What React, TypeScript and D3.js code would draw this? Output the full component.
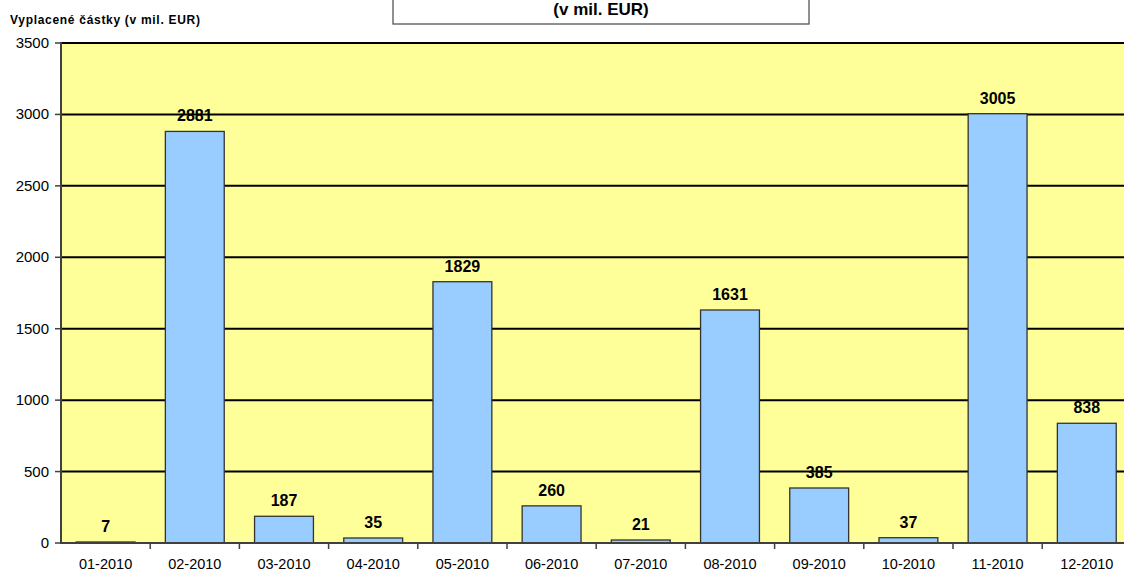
import React from "react";
import * as d3 from "d3";

// monthly paid amounts, 2010
var months = [
  "01-2010", "02-2010", "03-2010", "04-2010", "05-2010", "06-2010",
  "07-2010", "08-2010", "09-2010", "10-2010", "11-2010", "12-2010"
];
var amounts = [7, 2881, 187, 35, 1829, 260, 21, 1631, 385, 37, 3005, 838];
var yTicks = [0, 500, 1000, 1500, 2000, 2500, 3000, 3500];

var WIDTH = 1124;
var HEIGHT = 571;
var FONT = "Arial, 'Liberation Sans', sans-serif";

const App = () => {
  var left = 61;
  var step = 89.2;
  var top = 43;
  var bottom = 543;

  var x = d3
    .scaleBand<string>()
    .domain(months)
    .range([left, left + step * months.length])
    .paddingInner(0.34)
    .paddingOuter(0.17);

  var y = d3.scaleLinear().domain([0, 3500]).range([bottom, top]);

  var plotRight = left + step * months.length;

  return (
    <svg
      width={WIDTH}
      height={HEIGHT}
      style={{ position: "absolute", left: 0, top: 0, background: "#ffffff" }}
      fontFamily={FONT}
    >
      {/* plot area */}
      <rect x={left} y={top} width={plotRight - left} height={bottom - top} fill="#ffff99" />

      {/* gridlines */}
      {yTicks.map(t => (
        <line
          key={"g" + t}
          x1={left}
          x2={plotRight}
          y1={y(t)}
          y2={y(t)}
          stroke="#000000"
          strokeWidth={2}
        />
      ))}

      {/* bars */}
      {months.map((m, i) => (
        <rect
          key={m}
          x={x(m)}
          y={y(amounts[i])}
          width={x.bandwidth()}
          height={bottom - y(amounts[i])}
          fill="#99ccff"
          stroke="#333333"
          strokeWidth={1.3}
        />
      ))}

      {/* value labels */}
      {months.map((m, i) => (
        <text
          key={"v" + m}
          x={(x(m) as number) + x.bandwidth() / 2}
          y={y(amounts[i]) - 10}
          textAnchor="middle"
          fontSize={16}
          fontWeight="bold"
          fill="#000000"
        >
          {amounts[i]}
        </text>
      ))}

      {/* axes */}
      <line x1={left} x2={left} y1={top - 1} y2={bottom + 1} stroke="#404040" strokeWidth={2} />
      <line x1={left - 1} x2={plotRight} y1={bottom} y2={bottom} stroke="#404040" strokeWidth={2} />

      {yTicks.map(t => (
        <g key={"t" + t}>
          <line x1={left - 6} x2={left} y1={y(t)} y2={y(t)} stroke="#404040" strokeWidth={1.5} />
          <text x={49} y={y(t) + 5} textAnchor="end" fontSize={15} fill="#000000">
            {t}
          </text>
        </g>
      ))}

      {months.map((m, i) => (
        <g key={"x" + m}>
          <line
            x1={left + step * (i + 1)}
            x2={left + step * (i + 1)}
            y1={bottom}
            y2={bottom + 6}
            stroke="#404040"
            strokeWidth={1.5}
          />
          <text
            x={(x(m) as number) + x.bandwidth() / 2}
            y={569}
            textAnchor="middle"
            fontSize={14.5}
            fill="#000000"
          >
            {m}
          </text>
        </g>
      ))}

      {/* axis title */}
      <text x={10} y={24} fontSize={12} fontWeight="bold" letterSpacing={0.7} fill="#000000">
        Vyplacené částky (v mil. EUR)
      </text>

      {/* chart title box */}
      <rect x={393} y={-20} width={416} height={44} fill="#ffffff" stroke="#555555" strokeWidth={1.3} />
      <text x={601} y={15} textAnchor="middle" fontSize={17} fontWeight="bold" fill="#000000">
        (v mil. EUR)
      </text>
    </svg>
  );
};

export default App;
